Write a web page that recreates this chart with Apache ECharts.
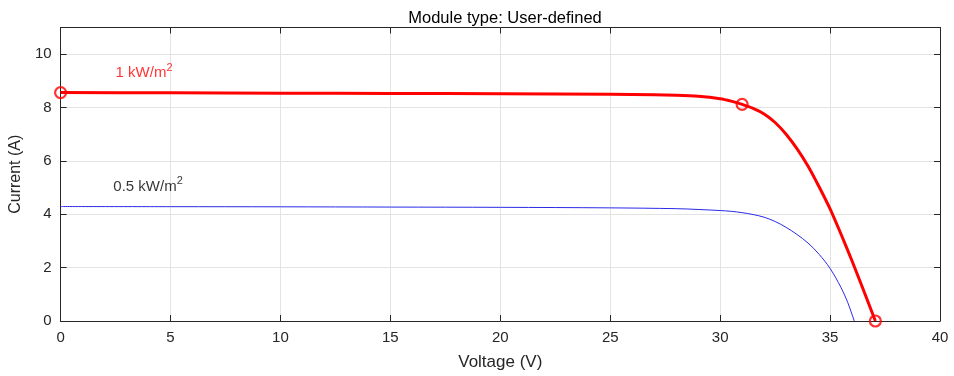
<!DOCTYPE html>
<html><head><meta charset="utf-8">
<script src="https://cdn.jsdelivr.net/npm/echarts@6/dist/echarts.min.js"></script>
<style>html,body{margin:0;padding:0;background:#fff}#c{width:954px;height:376px}</style>
</head><body><div id="c"></div>
<script>
const titleText = 'Module type: User-defined';
const xTitle = 'Voltage (V)';
const yTitle = 'Current (A)';
// 1 kW/m2 curve (V, I)
const redV = [0, 5, 10, 15, 20, 25, 27, 28, 29, 30, 30.5, 31, 31.5, 32, 32.5, 33, 33.5, 34, 34.5, 35, 35.5, 36, 36.5, 37.06];
const redI = [8.56, 8.55, 8.54, 8.53, 8.52, 8.50, 8.48, 8.46, 8.42, 8.33, 8.24, 8.12, 7.97, 7.76, 7.44, 7.0, 6.45, 5.8, 5.03, 4.2, 3.25, 2.25, 1.2, 0];
// 0.5 kW/m2 curve
const blueV = [0, 5, 10, 15, 20, 25, 28, 29, 30, 30.5, 31, 31.5, 32, 32.5, 33, 33.5, 34, 34.5, 35, 35.5, 35.8, 36.1];
const blueI = [4.29, 4.285, 4.28, 4.27, 4.26, 4.24, 4.21, 4.18, 4.14, 4.11, 4.06, 3.99, 3.89, 3.73, 3.51, 3.24, 2.92, 2.5, 1.97, 1.25, 0.7, 0];
// marked points (Isc, MPP, Voc)
const markV = [0, 31.0, 37.06];
const markI = [8.56, 8.12, 0];
const xTicks = [0, 5, 10, 15, 20, 25, 30, 35, 40];
const yTicks = [0, 2, 4, 6, 8, 10];
const labelRed = {v: 2.5, i: 9.34, text: '1 kW/m', sup: '2'};
const labelBlk = {v: 2.4, i: 5.1, text: '0.5 kW/m', sup: '2'};

const zip = (a, b) => a.map((v, k) => [v, b[k]]);
const font = 'Liberation Sans, Arial, Helvetica, sans-serif';
const axisCol = '#262626';
const chart = echarts.init(document.getElementById('c'));
const baseX = {
  type: 'value', min: 0, max: 40, interval: 5,
  axisLine: {show: true, onZero: false, lineStyle: {color: axisCol, width: 1}},
  axisTick: {show: true, inside: true, length: 6, lineStyle: {color: axisCol}},
  splitLine: {show: false}
};
const baseY = {
  type: 'value', min: 0, max: 11, interval: 2,
  axisLine: {show: true, onZero: false, lineStyle: {color: axisCol, width: 1}},
  axisTick: {show: true, inside: true, length: 6, lineStyle: {color: axisCol},
    customValues: yTicks},
  splitLine: {show: false}
};
const lbl = (o, col) => ({
  show: true, position: 'right', distance: 0,
  formatter: '{t|' + o.text + '}{s|' + o.sup + '}',
  rich: {
    t: {fontFamily: font, fontSize: 15, color: col, verticalAlign: 'bottom', lineHeight: 18},
    s: {fontFamily: font, fontSize: 11, color: col, verticalAlign: 'top', padding: [0,0,9,0], lineHeight: 18}
  }
});
chart.setOption({
  animation: false,
  title: {text: titleText, left: 500, top: 5, textAlign: 'center',
    textStyle: {fontFamily: font, fontSize: 16.5, fontWeight: 'normal', color: '#000'}},
  grid: {left: 60, right: 14, top: 27.5, bottom: 53, containLabel: false},
  xAxis: [
    Object.assign({}, baseX, {
      position: 'bottom',
      name: xTitle, nameLocation: 'middle', nameGap: 33,
      nameTextStyle: {fontFamily: font, fontSize: 17, color: axisCol},
      axisLabel: {show: true, fontFamily: font, fontSize: 15, color: axisCol, margin: 9,
        customValues: xTicks},
      axisTick: Object.assign({}, baseX.axisTick, {customValues: xTicks}),
      splitLine: {show: true, lineStyle: {color: '#e3e3e3', width: 1}}
    }),
    Object.assign({}, baseX, {position: 'top', axisLabel: {show: false}})
  ],
  yAxis: [
    Object.assign({}, baseY, {
      position: 'left',
      name: yTitle, nameLocation: 'middle', nameGap: 34, nameRotate: 90,
      nameTextStyle: {fontFamily: font, fontSize: 16, color: axisCol},
      axisLabel: {show: true, fontFamily: font, fontSize: 15, color: axisCol, margin: 9,
        customValues: yTicks},
      splitLine: {show: true, lineStyle: {color: '#e3e3e3', width: 1}}
    }),
    Object.assign({}, baseY, {position: 'right', axisLabel: {show: false}})
  ],
  series: [
    {type: 'line', data: zip(blueV, blueI), smooth: 0.35, symbol: 'none',
      lineStyle: {color: '#2a2ae6', width: 1}, z: 2},
    {type: 'line', data: zip(redV, redI), smooth: 0.25, symbol: 'none',
      lineStyle: {color: '#ff0000', width: 3}, z: 3},
    {type: 'scatter', data: zip(markV, markI), symbol: 'circle', symbolSize: 11,
      itemStyle: {color: 'rgba(255,255,255,0)', borderColor: '#ff0000', borderWidth: 2.2}, z: 4},
    {type: 'scatter', symbolSize: 0, silent: true, z: 5,
      data: [{value: [labelRed.v, labelRed.i], label: lbl(labelRed, '#ff0000')},
             {value: [labelBlk.v, labelBlk.i], label: lbl(labelBlk, '#000000')}]}
  ]
});
</script></body></html>
